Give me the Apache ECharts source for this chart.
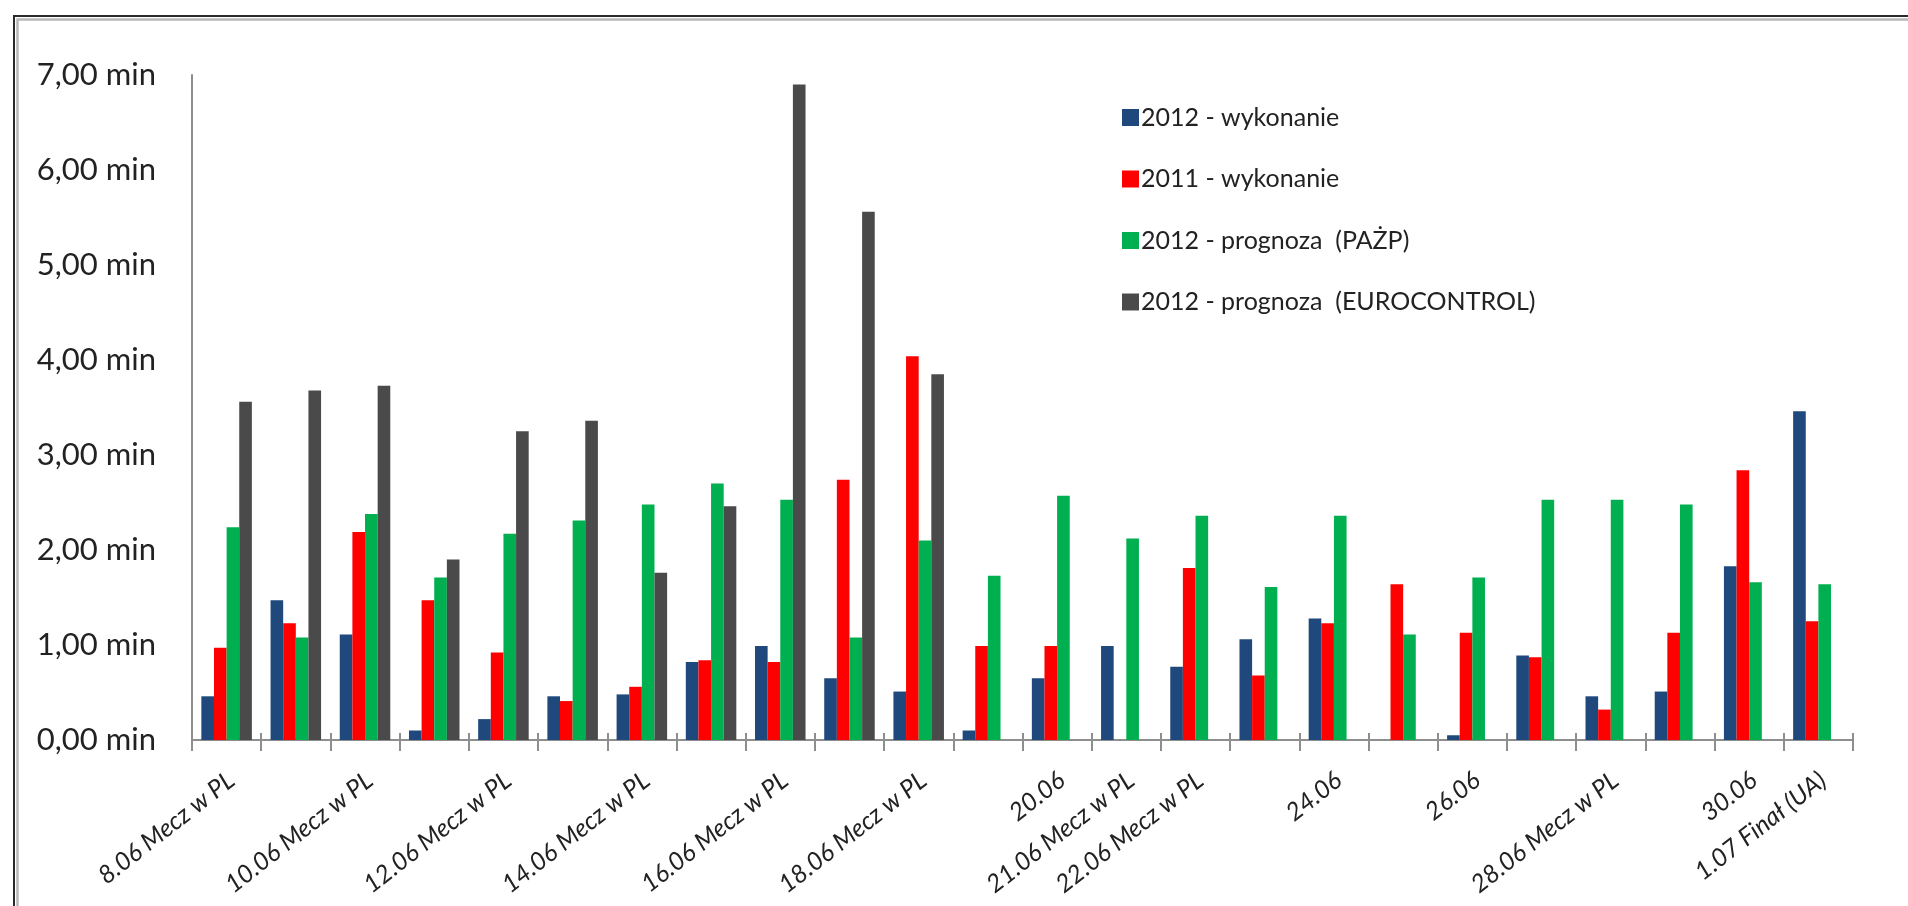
<!DOCTYPE html>
<html>
<head>
<meta charset="utf-8">
<script src="https://cdn.jsdelivr.net/npm/echarts@6/dist/echarts.min.js"></script>
<style>
  html, body { margin: 0; padding: 0; background: #fff; }
  #chart { width: 1908px; height: 906px; }
</style>
</head>
<body>
<div id="chart"></div>
<script>
// Days of Euro 2012 (8 June – 1 July)
const days = ['8.06', '9.06', '10.06', '11.06', '12.06', '13.06', '14.06', '15.06',
  '16.06', '17.06', '18.06', '19.06', '20.06', '21.06', '22.06', '23.06',
  '24.06', '25.06', '26.06', '27.06', '28.06', '29.06', '30.06', '1.07'];

// Labels printed under the axis ('' = day without a label)
const tickLabels = ['8.06 Mecz w PL', '', '10.06 Mecz w PL', '', '12.06 Mecz w PL', '',
  '14.06 Mecz w PL', '', '16.06 Mecz w PL', '', '18.06 Mecz w PL', '',
  '20.06', '21.06 Mecz w PL', '22.06 Mecz w PL', '', '24.06', '',
  '26.06', '', '28.06 Mecz w PL', '', '30.06', '1.07 Finał (UA)'];

// Average delay per flight [min]
const wykonanie2012 = [0.46, 1.47, 1.11, 0.10, 0.22, 0.46, 0.48, 0.82, 0.99, 0.65, 0.51, 0.10,
  0.65, 0.99, 0.77, 1.06, 1.28, null, 0.05, 0.89, 0.46, 0.51, 1.83, 3.46];
const wykonanie2011 = [0.97, 1.23, 2.19, 1.47, 0.92, 0.41, 0.56, 0.84, 0.82, 2.74, 4.04, 0.99,
  0.99, null, 1.81, 0.68, 1.23, 1.64, 1.13, 0.87, 0.32, 1.13, 2.84, 1.25];
const prognozaPAZP = [2.24, 1.08, 2.38, 1.71, 2.17, 2.31, 2.48, 2.70, 2.53, 1.08, 2.10, 1.73,
  2.57, 2.12, 2.36, 1.61, 2.36, 1.11, 1.71, 2.53, 2.53, 2.48, 1.66, 1.64];
const prognozaEurocontrol = [3.56, 3.68, 3.73, 1.90, 3.25, 3.36, 1.76, 2.46, 6.90, 5.56, 3.85, null,
  null, null, null, null, null, null, null, null, null, null, null, null];

const seriesNames = ['2012 - wykonanie', '2011 - wykonanie', '2012 - prognoza  (PAŻP)', '2012 - prognoza  (EUROCONTROL)'];
const seriesColors = ['#1F497D', '#FF0000', '#00B050', '#4A4A4A'];
const seriesData = [wykonanie2012, wykonanie2011, prognozaPAZP, prognozaEurocontrol];

const FONT = 'Lato, "Open Sans", sans-serif';
const AXIS_COLOR = '#8e8e8e';

const chart = echarts.init(document.getElementById('chart'));

chart.setOption({
  backgroundColor: '#ffffff',
  animation: false,
  textStyle: { fontFamily: FONT },
  graphic: [
    { type: 'rect', silent: true, shape: { x: 14, y: 16, width: 2000, height: 1000 },
      style: { fill: 'none', stroke: '#2a2a2a', lineWidth: 2 } },
    { type: 'rect', silent: true, shape: { x: 17.5, y: 19.5, width: 2000, height: 1000 },
      style: { fill: 'none', stroke: '#b8b8b8', lineWidth: 2.5 } }
  ],
  legend: {
    orient: 'vertical',
    left: 1117,
    top: 96,
    itemWidth: 17,
    itemHeight: 17,
    itemGap: 28.5,
    icon: 'rect',
    textStyle: { fontFamily: FONT, fontSize: 25, color: '#222', lineHeight: 27, padding: [0, 0, 6, -3] },
    data: seriesNames
  },
  grid: { left: 192, right: 55, top: 75, bottom: 166, containLabel: false, outerBoundsMode: 'none' },
  xAxis: [
    {
      type: 'category',
      position: 'bottom',
      data: days,
      boundaryGap: true,
      axisLine: { lineStyle: { color: AXIS_COLOR, width: 2 } },
      axisTick: { show: true, interval: 0, length: 11, lineStyle: { color: AXIS_COLOR, width: 2 } },
      axisLabel: {
        interval: 0,
        rotate: 38,
        margin: 41,
        fontFamily: FONT,
        fontStyle: 'italic',
        fontSize: 25,
        color: '#222',
        padding: [0, -6, 0, 0],
        formatter: (v, i) => tickLabels[i]
      },
      splitLine: { show: false }
    },
    {
      // inner half of the cross tick marks
      type: 'category',
      position: 'bottom',
      data: days,
      boundaryGap: true,
      axisLine: { show: false },
      axisTick: { show: true, inside: true, interval: 0, length: 7, lineStyle: { color: AXIS_COLOR, width: 2 } },
      axisLabel: { show: false },
      splitLine: { show: false }
    }
  ],
  yAxis: {
    type: 'value',
    min: 0,
    max: 7,
    interval: 1,
    axisLine: { show: true, lineStyle: { color: AXIS_COLOR, width: 2 } },
    axisTick: { show: false },
    splitLine: { show: false },
    axisLabel: {
      margin: 36,
      fontFamily: FONT,
      fontSize: 31,
      color: '#222',
      formatter: v => v.toFixed(2).replace('.', ',') + ' min'
    }
  },
  series: seriesNames.map((name, k) => ({
    name: name,
    type: 'bar',
    xAxisIndex: 0,
    data: seriesData[k],
    barGap: '0%',
    barCategoryGap: '27%',
    itemStyle: { color: seriesColors[k] }
  }))
});
</script>
</body>
</html>
